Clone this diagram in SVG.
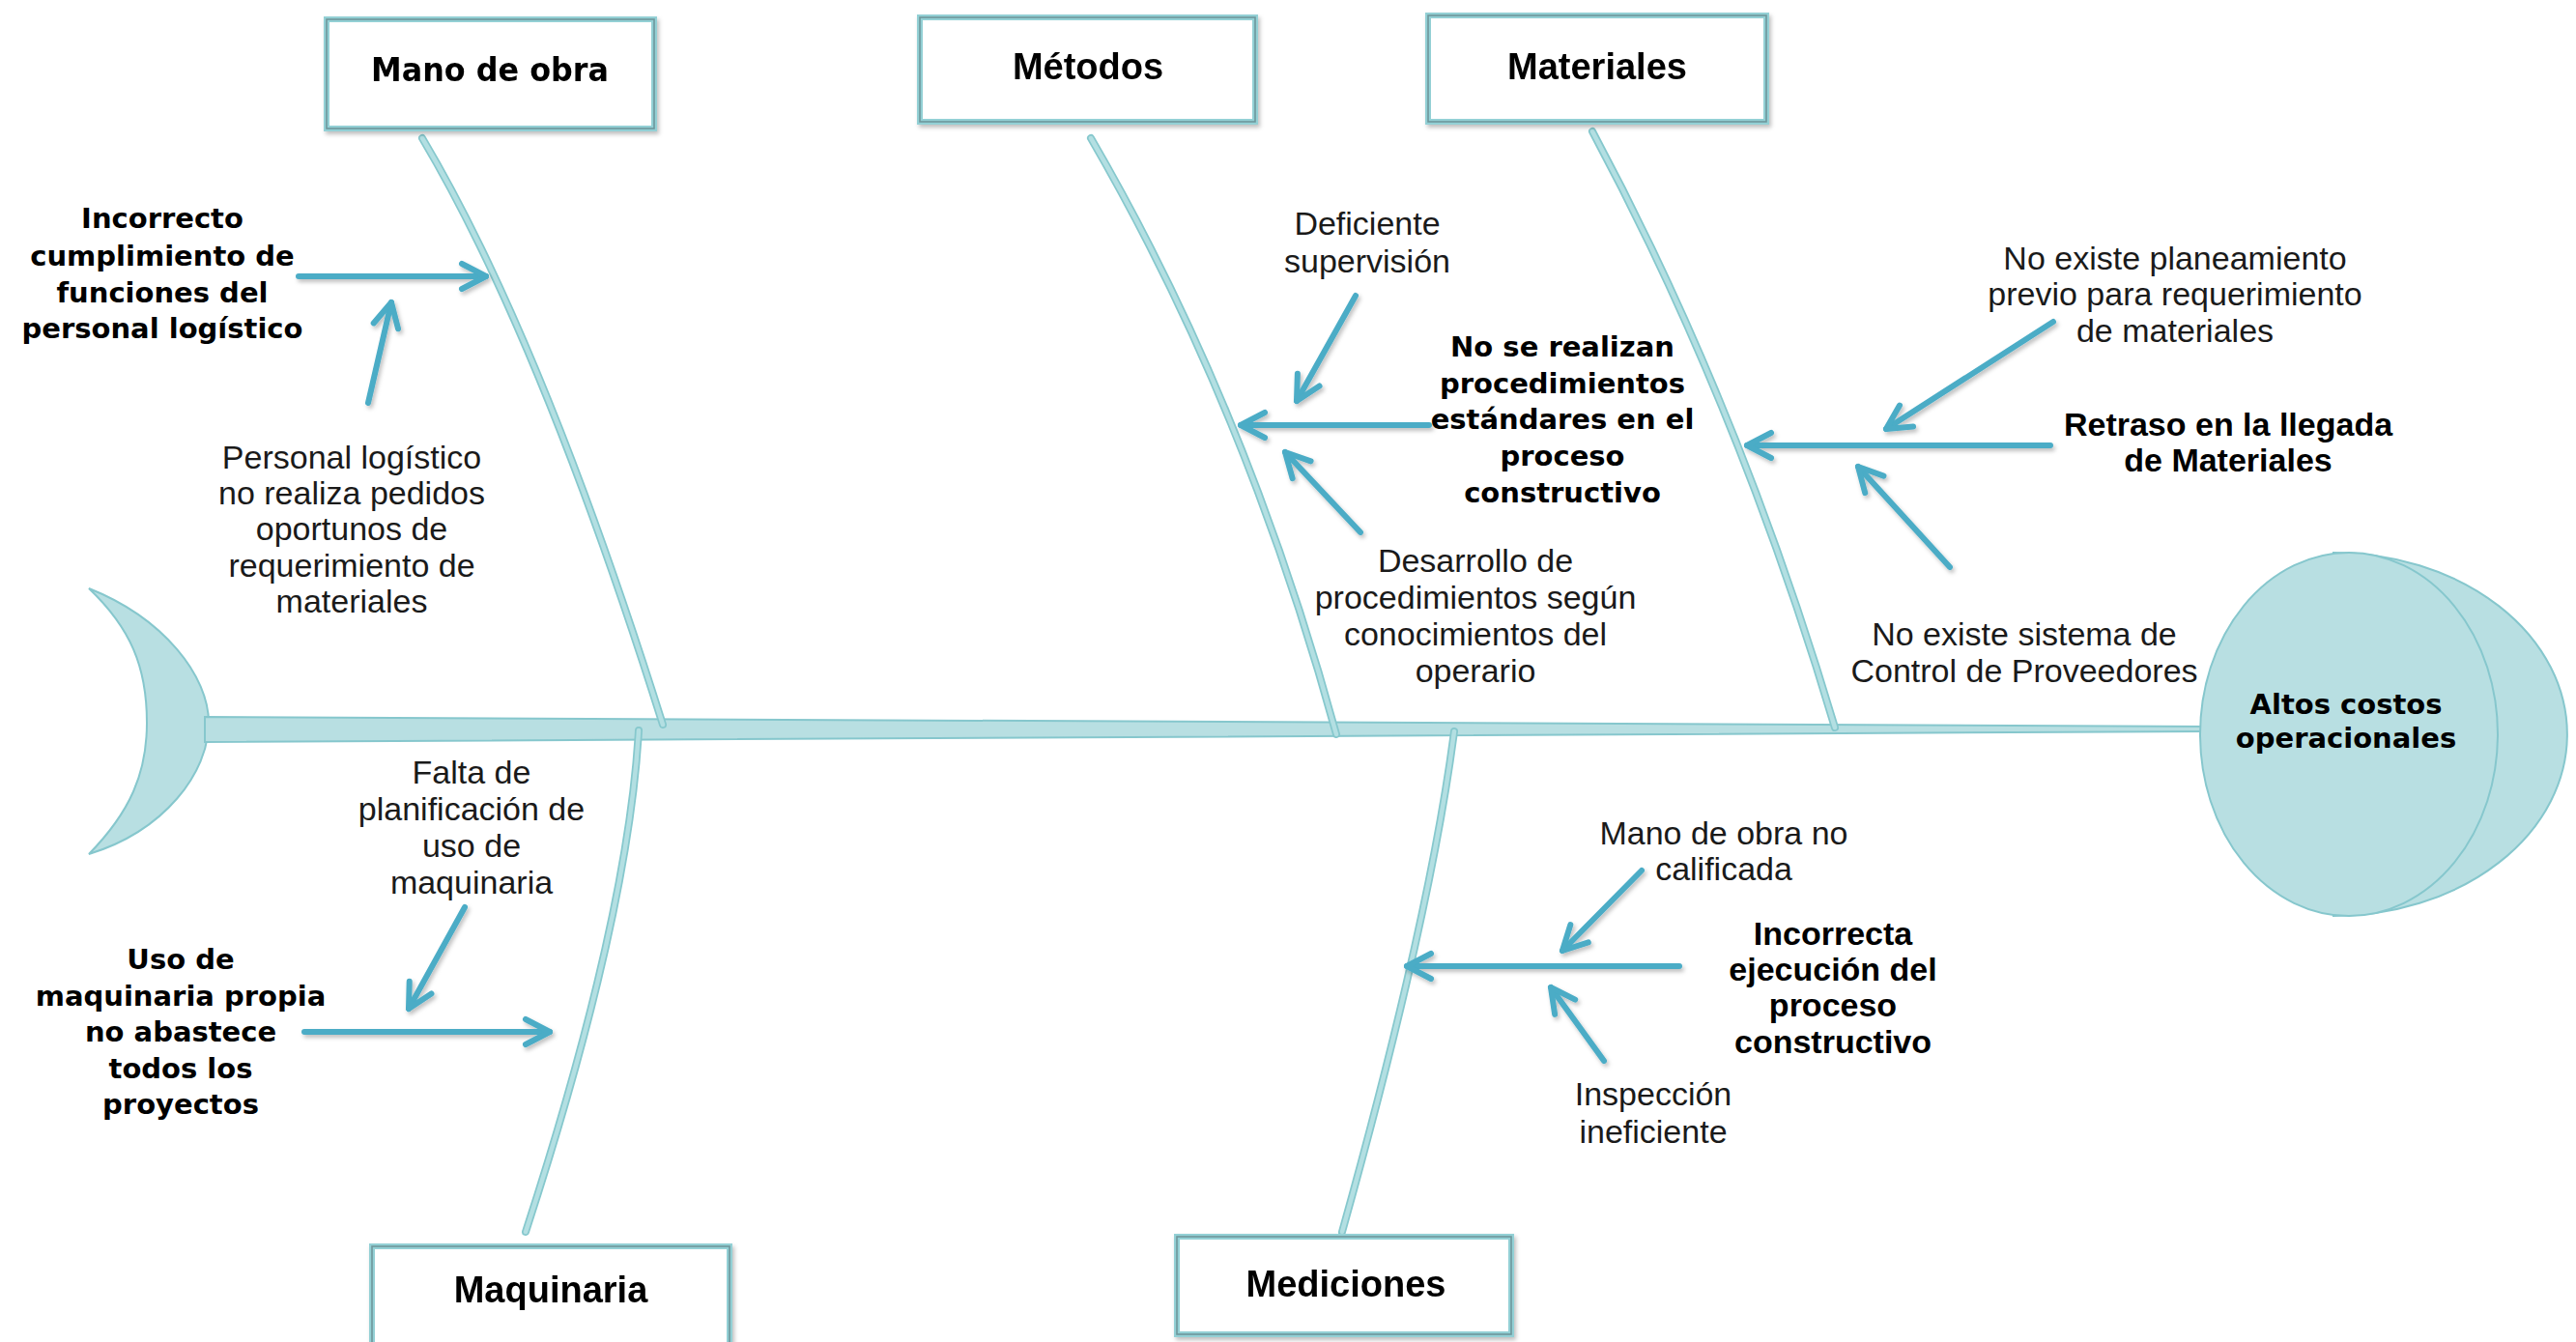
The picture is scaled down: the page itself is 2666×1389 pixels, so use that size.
<svg xmlns="http://www.w3.org/2000/svg" width="2666" height="1389" viewBox="0 0 2666 1389">
<defs>
<style>
.box{fill:#ffffff;stroke:#93d0d5;stroke-width:6}
.boxin{fill:none;stroke:#6f979b;stroke-width:1.6}
.cat{font-family:"Liberation Sans",Arial,sans-serif;font-weight:bold;font-size:38px;fill:#000;text-anchor:middle}
.catv{font-family:"DejaVu Sans",Verdana,sans-serif;font-weight:bold;font-size:31px;fill:#000;text-anchor:middle}
.bv{font-family:"DejaVu Sans",Verdana,sans-serif;font-weight:bold;font-size:29px;fill:#000;text-anchor:middle}
.ba{font-family:"Liberation Sans",Arial,sans-serif;font-weight:bold;font-size:34px;fill:#000;text-anchor:middle}
.rg{font-family:"Liberation Sans",Arial,sans-serif;font-size:34px;fill:#1a1a1a;text-anchor:middle}
.fish{fill:#b8dfe2;stroke:#86c7cd;stroke-width:2}
.bone{fill:none;stroke:#86c8cd;stroke-width:8;stroke-linecap:round}
.bonein{fill:none;stroke:#b3dfe2;stroke-width:4.5;stroke-linecap:round}
.arr{fill:none;stroke:#4bacc6;stroke-width:6;stroke-linecap:round;marker-end:url(#ah)}
</style>
<marker id="ah" viewBox="-30 -18 34 36" refX="0" refY="0" markerWidth="34" markerHeight="36" markerUnits="userSpaceOnUse" orient="auto">
<path d="M-25,-13 L0,0 L-25,13" fill="none" stroke="#4bacc6" stroke-width="6" stroke-linecap="round" stroke-linejoin="round"/>
</marker>
<filter id="sh" x="-20%" y="-20%" width="140%" height="140%">
<feDropShadow dx="2" dy="3" stdDeviation="2" flood-color="#000" flood-opacity="0.25"/>
</filter>
</defs>

<g id="fish-body">
<path class="fish" d="M92,609 C170,640 216,700 216,748 C216,800 170,860 92,884 C135,840 152,800 152,748 C152,690 135,650 92,609 Z"/>
<polygon class="fish" points="212,742 2290,752 2290,757 212,768"/>
</g>

<g id="bones">
<path class="bone" d="M437,143 Q560,350 686,750"/>
<path class="bonein" d="M437,143 Q560,350 686,750"/>
<path class="bone" d="M1129,143 Q1290,420 1383,760"/>
<path class="bonein" d="M1129,143 Q1290,420 1383,760"/>
<path class="bone" d="M1648,136 Q1800,420 1899,753"/>
<path class="bonein" d="M1648,136 Q1800,420 1899,753"/>
<path class="bone" d="M661,756 Q650,950 544,1275"/>
<path class="bonein" d="M661,756 Q650,950 544,1275"/>
<path class="bone" d="M1505,757 Q1480,950 1389,1275"/>
<path class="bonein" d="M1505,757 Q1480,950 1389,1275"/>
</g>

<g id="head">
<path class="fish" d="M2415,572 A242,188 0 0 1 2415,948 Z"/>
<ellipse class="fish" cx="2431" cy="760" rx="154" ry="188"/>
<text class="catv" style="font-size:29px"><tspan x="2428" y="739">Altos costos</tspan><tspan x="2428" y="774">operacionales</tspan></text>
</g>

<g id="node-mano-de-obra" filter="url(#sh)">
<rect class="box" x="338" y="20" width="339" height="113"/>
<rect class="boxin" x="338" y="20" width="339" height="113"/>
<text class="catv" x="507" y="84" style="font-size:34px" textLength="246" lengthAdjust="spacingAndGlyphs">Mano de obra</text>
</g>
<g id="node-metodos" filter="url(#sh)">
<rect class="box" x="952" y="18" width="347" height="108"/>
<rect class="boxin" x="952" y="18" width="347" height="108"/>
<text class="cat" x="1126" y="82">Métodos</text>
</g>
<g id="node-materiales" filter="url(#sh)">
<rect class="box" x="1478" y="16" width="350" height="110"/>
<rect class="boxin" x="1478" y="16" width="350" height="110"/>
<text class="cat" x="1653" y="82">Materiales</text>
</g>
<g id="node-maquinaria" filter="url(#sh)">
<rect class="box" x="385" y="1290" width="370" height="110"/>
<rect class="boxin" x="385" y="1290" width="370" height="110"/>
<text class="cat" x="570" y="1348">Maquinaria</text>
</g>
<g id="node-mediciones" filter="url(#sh)">
<rect class="box" x="1218" y="1280" width="346" height="101"/>
<rect class="boxin" x="1218" y="1280" width="346" height="101"/>
<text class="cat" x="1393" y="1342">Mediciones</text>
</g>

<g id="connectors" filter="url(#sh)">
<line class="arr" x1="309" y1="286" x2="503" y2="286"/>
<line class="arr" x1="381" y1="417" x2="405" y2="313"/>
<line class="arr" x1="1479" y1="440" x2="1284" y2="440"/>
<line class="arr" x1="1403" y1="306" x2="1342" y2="415"/>
<line class="arr" x1="1408" y1="551" x2="1330" y2="468"/>
<line class="arr" x1="2122" y1="461" x2="1808" y2="461"/>
<line class="arr" x1="2125" y1="333" x2="1952" y2="444"/>
<line class="arr" x1="2018" y1="587" x2="1923" y2="483"/>
<line class="arr" x1="315" y1="1068" x2="569" y2="1068"/>
<line class="arr" x1="481" y1="939" x2="423" y2="1044"/>
<line class="arr" x1="1738" y1="1000" x2="1456" y2="1000"/>
<line class="arr" x1="1699" y1="901" x2="1617" y2="984"/>
<line class="arr" x1="1660" y1="1098" x2="1605" y2="1022"/>
</g>

<g id="node-incorrecto-cumplimiento">
<text class="bv"><tspan x="168" y="236">Incorrecto</tspan><tspan x="168" y="275">cumplimiento de</tspan><tspan x="168" y="313">funciones del</tspan><tspan x="168" y="350">personal logístico</tspan></text>
</g>
<g id="node-personal-logistico">
<text class="rg"><tspan x="364" y="485">Personal logístico</tspan><tspan x="364" y="522">no realiza pedidos</tspan><tspan x="364" y="559">oportunos de</tspan><tspan x="364" y="597">requerimiento de</tspan><tspan x="364" y="634">materiales</tspan></text>
</g>
<g id="node-deficiente-supervision">
<text class="rg"><tspan x="1415" y="243">Deficiente</tspan><tspan x="1415" y="282">supervisión</tspan></text>
</g>
<g id="node-no-se-realizan">
<text class="bv"><tspan x="1617" y="369">No se realizan</tspan><tspan x="1617" y="407">procedimientos</tspan><tspan x="1617" y="444">estándares en el</tspan><tspan x="1617" y="482">proceso</tspan><tspan x="1617" y="520">constructivo</tspan></text>
</g>
<g id="node-desarrollo">
<text class="rg"><tspan x="1527" y="592">Desarrollo de</tspan><tspan x="1527" y="630">procedimientos según</tspan><tspan x="1527" y="668">conocimientos del</tspan><tspan x="1527" y="706">operario</tspan></text>
</g>
<g id="node-no-existe-planeamiento">
<text class="rg"><tspan x="2251" y="279">No existe planeamiento</tspan><tspan x="2251" y="316">previo para requerimiento</tspan><tspan x="2251" y="354">de materiales</tspan></text>
</g>
<g id="node-retraso">
<text class="ba"><tspan x="2306" y="451">Retraso en la llegada</tspan><tspan x="2306" y="488">de Materiales</tspan></text>
</g>
<g id="node-no-existe-sistema">
<text class="rg"><tspan x="2095" y="668">No existe sistema de</tspan><tspan x="2095" y="706">Control de Proveedores</tspan></text>
</g>
<g id="node-falta-planificacion">
<text class="rg"><tspan x="488" y="811">Falta de</tspan><tspan x="488" y="849">planificación de</tspan><tspan x="488" y="887">uso de</tspan><tspan x="488" y="925">maquinaria</tspan></text>
</g>
<g id="node-uso-maquinaria">
<text class="bv"><tspan x="187" y="1003">Uso de</tspan><tspan x="187" y="1041">maquinaria propia</tspan><tspan x="187" y="1078">no abastece</tspan><tspan x="187" y="1116">todos los</tspan><tspan x="187" y="1153">proyectos</tspan></text>
</g>
<g id="node-mano-no-calificada">
<text class="rg"><tspan x="1784" y="874">Mano de obra no</tspan><tspan x="1784" y="911">calificada</tspan></text>
</g>
<g id="node-incorrecta-ejecucion">
<text class="ba"><tspan x="1897" y="978">Incorrecta</tspan><tspan x="1897" y="1015">ejecución del</tspan><tspan x="1897" y="1052">proceso</tspan><tspan x="1897" y="1090">constructivo</tspan></text>
</g>
<g id="node-inspeccion">
<text class="rg"><tspan x="1711" y="1144">Inspección</tspan><tspan x="1711" y="1183">ineficiente</tspan></text>
</g>
</svg>
